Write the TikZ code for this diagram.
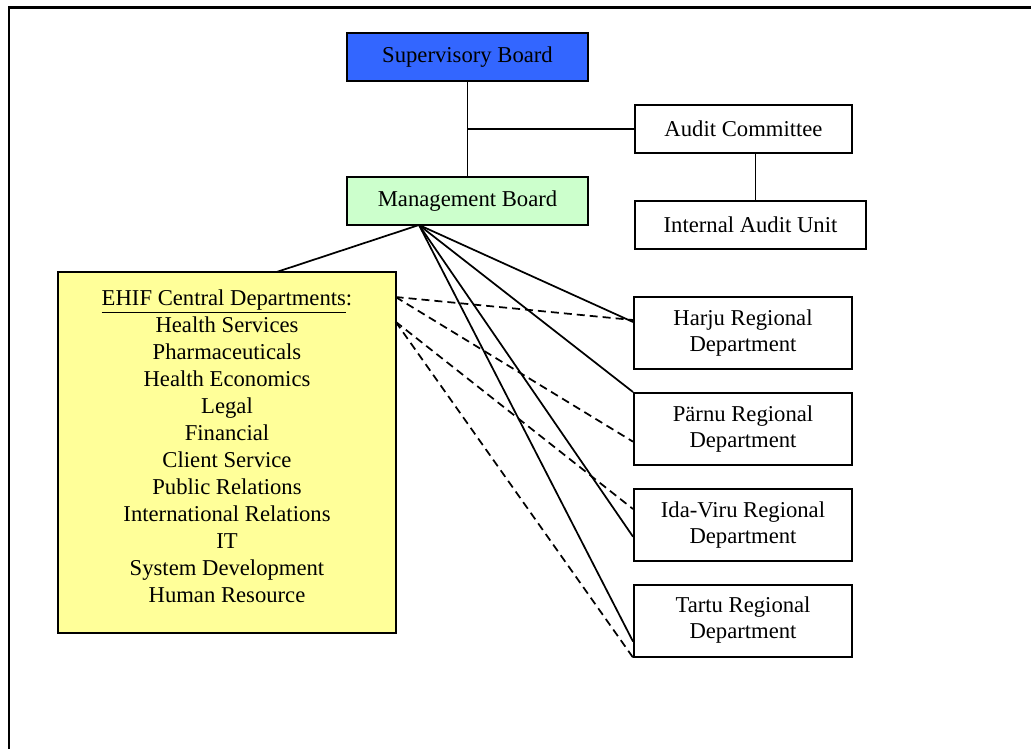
\documentclass[tikz,border=0pt]{standalone}
\usepackage{fontspec}
\setmainfont{Liberation Serif}
\definecolor{supblue}{HTML}{3366FF}
\definecolor{mgmtgreen}{HTML}{CCFFCC}
\definecolor{deptyellow}{HTML}{FFFF99}
\begin{document}
\begin{tikzpicture}[x=0.75pt,y=-0.75pt,
  every node/.style={font=\fontsize{17}{20.25}\selectfont},
  box/.style={draw=black, line width=1.5pt, rectangle, inner sep=0pt, align=center},
  regbox/.style={box, minimum width=163.5pt, minimum height=54pt, font=\fontsize{17}{19.5}\selectfont},
  link/.style={draw=black, line width=1.3pt},
  dlink/.style={draw=black, line width=1.3pt, dash pattern=on 6pt off 3.75pt}]
\useasboundingbox (0,0) rectangle (1031,749);
\clip (0,0) rectangle (1031,749);
% outer frame
\draw[line width=1.6pt] (9,7.5) rectangle (1045,765);
% boxes
\node[box, fill=supblue, minimum width=181pt, minimum height=36pt] (sup) at (467.5,57) {Supervisory Board};
\node[box, fill=mgmtgreen, minimum width=181pt, minimum height=36pt] (mgmt) at (467.5,201) {Management Board};
\node[box, minimum width=162.75pt, minimum height=36pt] (audit) at (743.5,129) {Audit Committee};
\node[box, minimum width=173.25pt, minimum height=36pt] (iau) at (750.5,225) {Internal Audit Unit};
\node[box, fill=deptyellow, minimum width=253.5pt, minimum height=270.75pt,
  label={[name=centraltext, align=center, yshift=4.5pt]center:{\underline{EHIF Central Departments}:\\Health Services\\Pharmaceuticals\\Health Economics\\Legal\\Financial\\Client Service\\Public Relations\\International Relations\\IT\\System Development\\Human Resource}}] (central) at (227,452.5) {};
\node[regbox] (harju) at (743,333) {Harju Regional\\Department};
\node[regbox] (parnu) at (743,429) {Pärnu Regional\\Department};
\node[regbox] (idaviru) at (743,525) {Ida-Viru Regional\\Department};
\node[regbox] (tartu) at (743,620.5) {Tartu Regional\\Department};
% connection points
\coordinate (j) at (467.5,129);
\coordinate (mo) at (419,225);
\coordinate (ct) at (276.6,272);
\coordinate (dA) at (395.6,297);
\coordinate (dB) at (395.6,321.7);
% solid connectors
\draw[link] (sup.south) -- (mgmt.north);
\draw[link] (j) -- (audit.west);
\draw[link] ([xshift=9pt]audit.south) -- ([xshift=9pt]audit.south |- iau.north);
\draw[link] (mo) -- (ct);
\draw[link] (mo) -- ([yshift=8.25pt]harju.west);
\draw[link] (mo) -- (parnu.north west);
\draw[link] (mo) -- ([yshift=-8.75pt]idaviru.west);
\draw[link] (mo) -- ([yshift=-15.75pt]tartu.west);
% dashed connectors
\draw[dlink] (dA) -- ([yshift=9.75pt]harju.west);
\draw[dlink] (dA) -- ([yshift=-9.5pt]parnu.west);
\draw[dlink] (dB) -- ([yshift=12pt]idaviru.west);
\draw[dlink] (dB) -- (tartu.south west);
\end{tikzpicture}
\end{document}
